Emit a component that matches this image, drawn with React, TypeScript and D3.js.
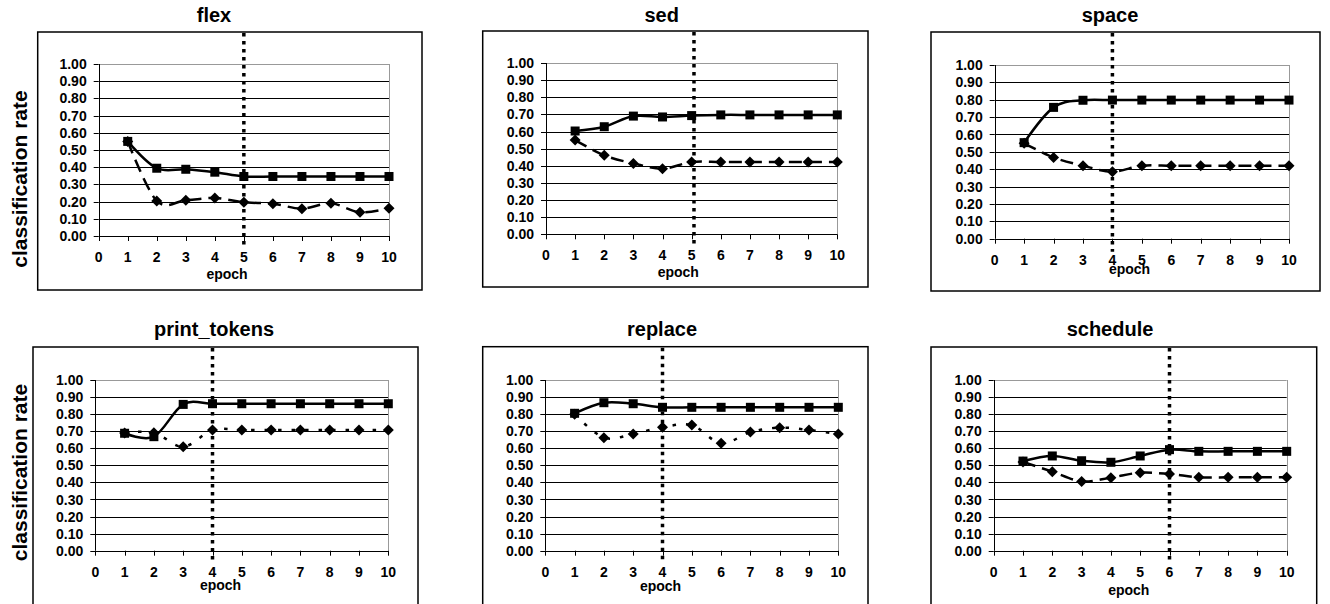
import React from 'react';
import * as d3 from 'd3';

// epochs on the x axis, classification rate on the y axis
const epochs = [1, 2, 3, 4, 5, 6, 7, 8, 9, 10];
const xTicks = [0, 1, 2, 3, 4, 5, 6, 7, 8, 9, 10];
const yTicks = [0, 0.1, 0.2, 0.3, 0.4, 0.5, 0.6, 0.7, 0.8, 0.9, 1.0];

const panelNames = ['flex', 'sed', 'space', 'print_tokens', 'replace', 'schedule'];

const flexSolid = [0.55, 0.394, 0.388, 0.371, 0.346, 0.346, 0.346, 0.346, 0.346, 0.346];
const flexDashed = [0.55, 0.204, 0.208, 0.221, 0.196, 0.188, 0.159, 0.19, 0.138, 0.161];
const sedSolid = [0.603, 0.628, 0.69, 0.685, 0.693, 0.697, 0.697, 0.697, 0.697, 0.697];
const sedDashed = [0.55, 0.461, 0.414, 0.383, 0.422, 0.422, 0.422, 0.422, 0.422, 0.422];
const spaceSolid = [0.553, 0.756, 0.797, 0.798, 0.798, 0.798, 0.798, 0.798, 0.798, 0.798];
const spaceDashed = [0.549, 0.468, 0.42, 0.386, 0.42, 0.42, 0.42, 0.42, 0.42, 0.42];
const printSolid = [0.688, 0.668, 0.857, 0.861, 0.861, 0.861, 0.861, 0.861, 0.861, 0.861];
const printDotted = [0.69, 0.691, 0.609, 0.707, 0.707, 0.707, 0.707, 0.707, 0.707, 0.707];
const replaceSolid = [0.805, 0.867, 0.861, 0.84, 0.84, 0.84, 0.84, 0.84, 0.84, 0.84];
const replaceDotted = [0.8, 0.662, 0.684, 0.723, 0.736, 0.629, 0.695, 0.721, 0.707, 0.684];
const scheduleSolid = [0.525, 0.555, 0.527, 0.518, 0.555, 0.592, 0.582, 0.582, 0.582, 0.582];
const scheduleDashed = [0.52, 0.463, 0.406, 0.428, 0.457, 0.449, 0.43, 0.43, 0.43, 0.43];

// epoch where the vertical dotted marker sits
const stopEpochs = [5, 5.08, 4, 4, 4, 6];

const solidSeries = [flexSolid, sedSolid, spaceSolid, printSolid, replaceSolid, scheduleSolid];
const otherSeries = [flexDashed, sedDashed, spaceDashed, printDotted, replaceDotted, scheduleDashed];
const otherStyle = ['dash', 'dash', 'dash', 'dot', 'dot', 'dash'];

// page layout of each panel (pixels)
const layout = [
  { box: [37.7, 32, 422, 290], plot: [98.7, 64, 389, 236], title: [214, 21.5], epoch: [227, 279], ylab: 179 },
  { box: [482.7, 31, 868, 287], plot: [546, 63, 837.3, 234.3], title: [661.7, 21.5], epoch: [678.3, 277.3], ylab: null },
  { box: [931, 32, 1320, 291], plot: [994.7, 65, 1289, 238.7], title: [1110, 21.5], epoch: [1129.5, 274], ylab: null },
  { box: [33, 347, 418, 640], plot: [95.3, 380, 388.3, 550.7], title: [214, 336], epoch: [220.5, 590], ylab: 472.5 },
  { box: [482.7, 346.7, 868, 640], plot: [545.3, 380, 838.3, 550.7], title: [662, 336], epoch: [660.5, 591], ylab: null },
  { box: [931, 347, 1316.7, 640], plot: [993.7, 380, 1286.7, 550.7], title: [1110, 336], epoch: [1128.8, 595], ylab: null },
];

const font = 'Liberation Sans, Arial, sans-serif';
const fmt = d3.format('.2f');

const Panel = ({ i }: { i: number }) => {
  const L = layout[i];
  const [px0, py0, px1, py1] = L.plot;
  const x = d3.scaleLinear().domain([0, 10]).range([px0, px1]);
  const y = d3.scaleLinear().domain([0, 1]).range([py1, py0]);

  const line = d3.line<number>()
    .x((_, k) => x(epochs[k]))
    .y((d) => y(d))
    .curve(d3.curveCardinal.tension(0));

  const solid = solidSeries[i];
  const other = otherSeries[i];
  const dash = otherStyle[i] === 'dash' ? '13 7' : '3.5 10';
  const [bx0, by0, bx1, by1] = L.box;

  return (
    <g>
      <rect x={bx0} y={by0} width={bx1 - bx0} height={by1 - by0} fill="white" stroke="#000" strokeWidth={1.5} />
      <text x={L.title[0]} y={L.title[1]} textAnchor="middle" fontFamily={font} fontWeight="bold" fontSize={20}>
        {panelNames[i]}
      </text>

      {/* gridlines */}
      {yTicks.slice(1, -1).map((t) => (
        <line key={t} x1={px0} x2={px1} y1={Math.round(y(t)) + 0.5} y2={Math.round(y(t)) + 0.5} stroke="#000" strokeWidth={1} />
      ))}
      <line x1={px0} x2={px1} y1={Math.round(py0) + 0.5} y2={Math.round(py0) + 0.5} stroke="#999" strokeWidth={1} />
      <line x1={Math.round(px1) + 0.5} x2={Math.round(px1) + 0.5} y1={py0} y2={py1} stroke="#999" strokeWidth={1} />

      {/* axes */}
      <line x1={Math.round(px0) + 0.5} x2={Math.round(px0) + 0.5} y1={py0} y2={py1} stroke="#000" strokeWidth={1} />
      <line x1={px0} x2={px1} y1={Math.round(py1) + 0.5} y2={Math.round(py1) + 0.5} stroke="#000" strokeWidth={1} />
      {yTicks.map((t) => (
        <g key={'y' + t}>
          <line x1={px0 - 5} x2={px0} y1={Math.round(y(t)) + 0.5} y2={Math.round(y(t)) + 0.5} stroke="#000" />
          <text x={px0 - 12} y={y(t)} dy="0.36em" textAnchor="end" fontFamily={font} fontWeight="bold" fontSize={14}>
            {fmt(t)}
          </text>
        </g>
      ))}
      {xTicks.map((t) => (
        <g key={'x' + t}>
          <line x1={Math.round(x(t)) + 0.5} x2={Math.round(x(t)) + 0.5} y1={py1} y2={py1 + 5} stroke="#000" />
          <text x={x(t)} y={py1 + 26} textAnchor="middle" fontFamily={font} fontWeight="bold" fontSize={14}>
            {t}
          </text>
        </g>
      ))}
      <text x={L.epoch[0]} y={L.epoch[1]} textAnchor="middle" fontFamily={font} fontWeight="bold" fontSize={14}>
        epoch
      </text>
      {L.ylab !== null && (
        <text transform={`translate(26.5,${L.ylab}) rotate(-90)`} textAnchor="middle" fontFamily={font} fontWeight="bold" fontSize={21}>
          classification rate
        </text>
      )}

      {/* series */}
      <path d={line(other) || ''} fill="none" stroke="#000" strokeWidth={2.5} strokeDasharray={dash} />
      {other.map((v, k) => {
        const cx = x(epochs[k]);
        const cy = y(v);
        return <path key={'d' + k} d={`M${cx},${cy - 5.5}L${cx + 5.5},${cy}L${cx},${cy + 5.5}L${cx - 5.5},${cy}Z`} fill="#000" />;
      })}
      <path d={line(solid) || ''} fill="none" stroke="#000" strokeWidth={2.5} />
      {solid.map((v, k) => (
        <rect key={'s' + k} x={x(epochs[k]) - 4.5} y={y(v) - 4.5} width={9} height={9} fill="#000" />
      ))}

      {/* stopping epoch marker */}
      <line x1={x(stopEpochs[i])} x2={x(stopEpochs[i])} y1={by0 + 1} y2={py1 + 13} stroke="#000" strokeWidth={3.5} strokeDasharray="3.5 4.5" />
    </g>
  );
};

export default function App() {
  return (
    <svg width={1330} height={604} style={{ position: 'absolute', left: 0, top: 0, background: 'white' }}>
      <rect width={1330} height={604} fill="white" />
      {panelNames.map((_, i) => (
        <Panel key={i} i={i} />
      ))}
    </svg>
  );
}
